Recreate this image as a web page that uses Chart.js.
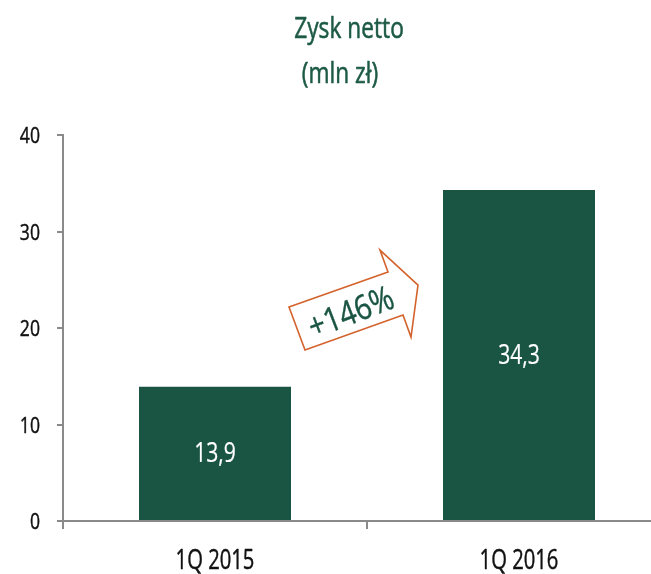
<!DOCTYPE html>
<html>
<head>
<meta charset="utf-8">
<script src="https://cdn.jsdelivr.net/npm/chart.js@4/dist/chart.umd.min.js"></script>
<style>
  html, body { margin: 0; padding: 0; overflow: hidden; background: #fff; }
  #wrap { width: 672px; height: 574px; }
</style>
</head>
<body>
<div id="wrap"><canvas id="c" width="672" height="574"></canvas></div>
<script>
const categories = ['1Q 2015', '1Q 2016'];
const netProfit = [13.9, 34.3];
const valueLabels = ['13,9', '34,3'];
const titleLines = ['Zysk netto', '(mln zł)'];
const changeLabel = '+146%';

const FONT = '"Open Sans", "Noto Sans", "DejaVu Sans", sans-serif';
const SX = 0.77;            // horizontal compression to imitate a condensed face
const GREEN = '#1a5543';
const TITLE_GREEN = '#1d5a46';
const AXIS = '#8a8a8a';
const ORANGE = '#d4622c';

function condensedText(ctx, text, x, y, size, color, align, sx, angle, weightStroke) {
  ctx.save();
  ctx.translate(x, y);
  if (angle) ctx.rotate(angle);
  ctx.scale(sx, 1);
  ctx.font = size + 'px ' + FONT;
  ctx.fillStyle = color;
  ctx.textAlign = align;
  ctx.textBaseline = 'alphabetic';
  ctx.fillText(text, 0, 0);
  if (weightStroke) {
    ctx.strokeStyle = color;
    ctx.lineWidth = weightStroke;
    ctx.lineJoin = 'round';
    ctx.strokeText(text, 0, 0);
  }
  ctx.restore();
}

const textPlugin = {
  id: 'condensedTexts',
  afterDraw(chart) {
    const ctx = chart.ctx;
    const xs = chart.scales.x, ys = chart.scales.y;
    const area = chart.chartArea;

    // title
    condensedText(ctx, titleLines[0], 349, 38, 29.5, TITLE_GREEN, 'center', SX, 0, 0.6);
    condensedText(ctx, titleLines[1], 340, 83, 29.5, TITLE_GREEN, 'center', SX, 0, 0.6);

    // y tick labels from the scale
    ys.ticks.forEach((t, i) => {
      const y = ys.getPixelForTick(i);
      condensedText(ctx, String(t.label), ys.right - 6 - 17, y + 8, 22, '#111', 'right', 0.8, 0, 0.45);
    });

    // x tick labels from the scale
    xs.ticks.forEach((t, i) => {
      const x = xs.getPixelForTick(i);
      condensedText(ctx, xs.getLabelForValue(t.value), x, area.bottom + 48, 26.6, '#111', 'center', 0.76, 0, 0.45);
    });

    // value labels inside bars
    const meta = chart.getDatasetMeta(0);
    meta.data.forEach((bar, i) => {
      const mid = (bar.y + bar.base) / 2;
      condensedText(ctx, valueLabels[i], bar.x, mid + 9, 28, '#ffffff', 'center', 0.755, 0, 0.2);
    });

    // growth arrow, anchored between the two categories
    const ax = (xs.getPixelForValue(0) + xs.getPixelForValue(1)) / 2;
    const ay = ys.getPixelForValue(23);
    const shape = [[-62, 51], [-78, 8], [21, -27], [13, -49], [51, -14], [44, 38], [36, 16]];
    ctx.save();
    ctx.beginPath();
    shape.forEach((p, i) => {
      if (i === 0) ctx.moveTo(ax + p[0], ay + p[1]);
      else ctx.lineTo(ax + p[0], ay + p[1]);
    });
    ctx.closePath();
    ctx.fillStyle = '#ffffff';
    ctx.fill();
    ctx.strokeStyle = ORANGE;
    ctx.lineWidth = 1.6;
    ctx.stroke();
    ctx.restore();
    condensedText(ctx, changeLabel, ax - 12, ay + 24, 34, GREEN, 'center', 0.84, -21 * Math.PI / 180, 0.4);
  }
};

new Chart(document.getElementById('c'), {
  type: 'bar',
  data: {
    labels: categories,
    datasets: [{
      data: netProfit,
      backgroundColor: GREEN,
      borderWidth: 0,
      barPercentage: 0.5,
      categoryPercentage: 1.0
    }]
  },
  options: {
    responsive: false,
    animation: false,
    layout: { padding: { left: 21, right: 1, top: 135, bottom: 0 } },
    plugins: {
      legend: { display: false },
      tooltip: { enabled: false },
      title: { display: false }
    },
    scales: {
      y: {
        min: 0, max: 40,
        afterFit(s) { s.width = 42; },
        ticks: { stepSize: 10, color: 'rgba(0,0,0,0)', font: { family: FONT, size: 20 }, padding: 17 },
        grid: { drawOnChartArea: false, drawTicks: true, tickLength: 6, color: AXIS, lineWidth: 2 },
        border: { color: AXIS, width: 2 }
      },
      x: {
        afterFit(s) { s.height = 53; },
        ticks: { color: 'rgba(0,0,0,0)', font: { family: FONT, size: 25 }, padding: 13 },
        grid: { drawOnChartArea: false, drawTicks: true, tickLength: 8, offset: true, color: AXIS, lineWidth: 2 },
        border: { color: AXIS, width: 2 }
      }
    }
  },
  plugins: [textPlugin]
});
</script>
</body>
</html>
